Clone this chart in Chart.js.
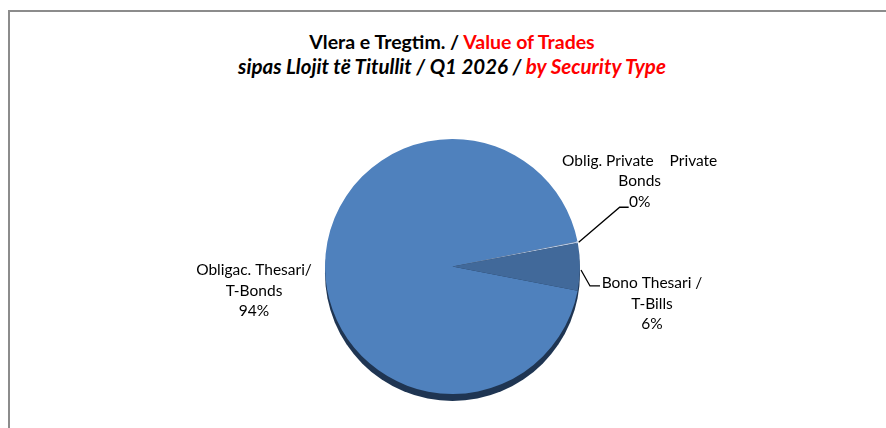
<!DOCTYPE html>
<html>
<head>
<meta charset="utf-8">
<script src="https://cdn.jsdelivr.net/npm/chart.js@4.4.1/dist/chart.umd.min.js"></script>
<style>
    html, body { margin: 0; padding: 0; background: #ffffff; }
    body { width: 886px; height: 428px; position: relative; overflow: hidden; font-family: Lato, "Open Sans", sans-serif; }
    .frame { position: absolute; left: 8px; top: 10px; width: 900px; height: 440px; border-top: 2px solid #8c8c8c; border-left: 2px solid #8c8c8c; }
    .title { position: absolute; left: 0; width: 904px; text-align: center; font-weight: bold; color: #000; line-height: 24px; }
    .t1 { top: 30px; font-size: 19.5px; }
    .t2 { top: 54px; font-size: 20.5px; font-style: italic; }
    .red { color: #ff0000; }
    #chartWrap { position: absolute; left: 0; top: 0; width: 886px; height: 428px; }
</style>
</head>
<body>
<div class="frame"></div>
<div class="title t1">Vlera e Tregtim. / <span class="red">Value of Trades</span></div>
<div class="title t2">sipas Llojit të Titullit / Q1 2026 / <span class="red">by Security Type</span></div>
<div id="chartWrap"><canvas id="pieChart" width="886" height="428"></canvas></div>

<script>
// Dados do gráfico
const categories = ['Obligac. Thesari/ T-Bonds', 'Oblig. Private Private Bonds', 'Bono Thesari / T-Bills'];
const shares = [93.8, 0.2, 6.0];
const percentLabels = ['94%', '0%', '6%'];
const sliceColors = ['#4f81bd', '#b4c7e2', '#41699a'];

// linhas de texto de cada rótulo
const labelLines = [
    ['Obligac. Thesari/', 'T-Bonds'],
    ['Oblig. Private    Private', 'Bonds'],
    ['Bono Thesari /', 'T-Bills']
];

// posição do rótulo relativa ao ponto da borda (dx, dy do centro do bloco)
const labelOffsets = [
    { dx: -71, dy: 24, leader: false },
    { dx: 62, dy: -61, leader: true, elbowX: 42, elbowY: -35, endX: 51 },
    { dx: 72, dy: 37, leader: true, elbowX: 10, elbowY: 19, endX: 20 }
];

// Sombra 3D embaixo da pizza
const shadowPlugin = {
    id: 'pieShadow',
    beforeDatasetsDraw(chart) {
        const arc = chart.getDatasetMeta(0).data[0];
        if (!arc) return;
        const ctx = chart.ctx;
        ctx.save();
        ctx.beginPath();
        ctx.arc(arc.x, arc.y + 7, arc.outerRadius, 0, Math.PI * 2);
        ctx.fillStyle = '#1f3552';
        ctx.fill();
        ctx.restore();
    }
};

// Rótulos com linhas de chamada
const labelsPlugin = {
    id: 'pieLabels',
    afterDatasetsDraw(chart) {
        const ctx = chart.ctx;
        const meta = chart.getDatasetMeta(0);
        ctx.save();
        ctx.font = '15.5px Lato, "Open Sans", sans-serif';
        ctx.fillStyle = '#000';
        ctx.textAlign = 'center';
        ctx.textBaseline = 'middle';
        meta.data.forEach((arc, i) => {
            const mid = (arc.startAngle + arc.endAngle) / 2;
            const ex = arc.x + Math.cos(mid) * arc.outerRadius;
            const ey = arc.y + Math.sin(mid) * arc.outerRadius;
            const o = labelOffsets[i];
            const lines = labelLines[i].concat([percentLabels[i]]);
            const cx = ex + o.dx;
            const cy = ey + o.dy;
            lines.forEach((line, k) => {
                ctx.fillText(line, cx, cy + (k - 1) * 20.5);
            });
            if (o.leader) {
                ctx.beginPath();
                ctx.moveTo(ex + 1, ey + (i === 2 ? 3 : 0));
                ctx.lineTo(ex + o.elbowX, ey + o.elbowY);
                ctx.lineTo(ex + o.endX, ey + o.elbowY);
                ctx.strokeStyle = '#000';
                ctx.lineWidth = 1.3;
                ctx.stroke();
            }
        });
        ctx.restore();
    }
};

function createPieChart() {
    const ctx = document.getElementById('pieChart').getContext('2d');
    new Chart(ctx, {
        type: 'pie',
        data: {
            labels: categories,
            datasets: [{
                data: shares,
                backgroundColor: sliceColors,
                borderWidth: 0,
                hoverOffset: 0
            }]
        },
        options: {
            responsive: false,
            animation: false,
            rotation: 101,
            layout: {
                padding: { left: 325, right: 306, top: 139, bottom: 34 }
            },
            plugins: {
                legend: { display: false },
                title: { display: false },
                tooltip: { enabled: false }
            }
        },
        plugins: [shadowPlugin, labelsPlugin]
    });
}

document.addEventListener('DOMContentLoaded', function() {
    createPieChart();
});
</script>
</body>
</html>
